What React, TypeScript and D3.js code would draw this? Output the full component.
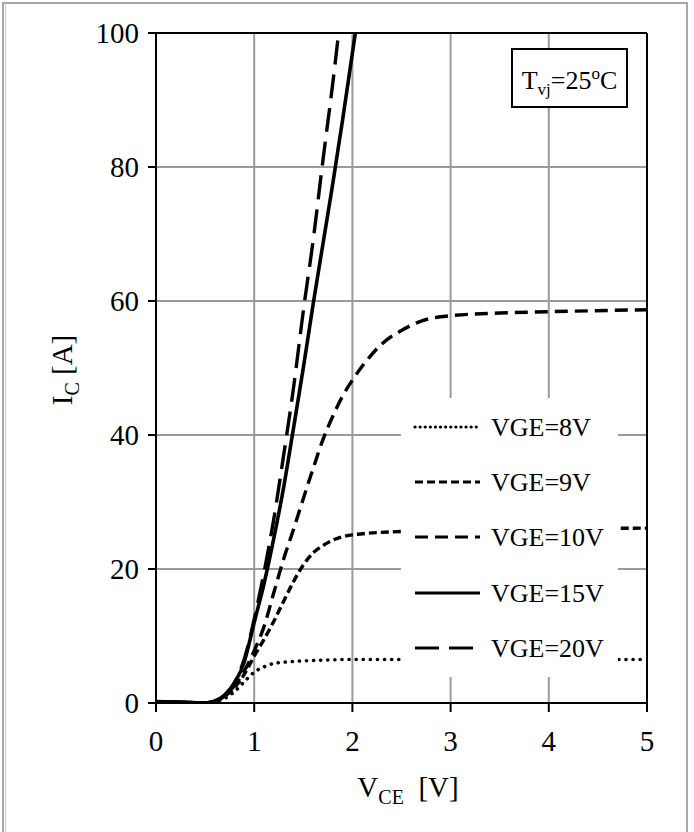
import React from "react";
import * as d3 from "d3";

type Pt = [number, number];

const xTicks = [0, 1, 2, 3, 4, 5];
const yTicks = [0, 20, 40, 60, 80, 100];

const vge8: Pt[] = [[0,0.2],[0.3,0.1],[0.5,0],[0.6,0.2],[0.7,0.7],[0.8,1.7],[0.9,3.2],[1.0,4.6],[1.1,5.4],[1.2,5.9],[1.4,6.2],[1.7,6.4],[2.0,6.5],[3,6.5],[4,6.5],[5,6.5]];
const vge9: Pt[] = [[0,0.2],[0.3,0.1],[0.5,0],[0.6,0.3],[0.7,1.0],[0.8,2.3],[0.9,4.3],[1.0,7.0],[1.1,9.5],[1.2,12.2],[1.3,15.2],[1.4,18.1],[1.5,20.6],[1.6,22.4],[1.7,23.5],[1.8,24.3],[2.0,25.1],[2.5,25.6],[3,25.8],[4,26.0],[5,26.1]];
const vge10: Pt[] = [[0,0.2],[0.3,0.1],[0.5,0],[0.6,0.3],[0.7,1.1],[0.8,2.6],[0.9,4.8],[1.0,7.8],[1.1,11.4],[1.2,16.5],[1.3,21.5],[1.4,25.9],[1.5,30.5],[1.6,35],[1.7,39.3],[1.8,42.8],[1.9,45.8],[2.0,48.2],[2.15,51.2],[2.3,53.6],[2.5,55.6],[2.7,57],[3.0,57.8],[3.5,58.2],[4,58.4],[5,58.7]];
const vge15: Pt[] = [[0,0.2],[0.3,0.1],[0.5,0],[0.6,0.3],[0.7,1.2],[0.8,3.0],[0.9,6.2],[0.95,9.0],[1.0,12],[1.1,17.8],[1.2,24.6],[1.3,32.2],[1.4,41],[1.5,50],[1.6,59.5],[1.7,68.5],[1.8,77.5],[1.9,87],[2.0,97],[2.06,103]];
const vge20: Pt[] = [[0,0.2],[0.3,0.1],[0.5,0],[0.6,0.3],[0.7,1.2],[0.8,3.1],[0.9,6.6],[1.0,12.5],[1.1,19.5],[1.2,27.5],[1.3,37],[1.4,47],[1.5,58.5],[1.6,69],[1.7,81],[1.8,92.5],[1.86,100],[1.9,105]];

const seriesNames = ["VGE=8V", "VGE=9V", "VGE=10V", "VGE=15V", "VGE=20V"];
const seriesData = [vge8, vge9, vge10, vge15, vge20];
const seriesDash = ["0.1 7", "8 4", "13 7", "", "24 10"];
const seriesWidth = [3.6, 3.4, 3.4, 3.6, 3.4];

const FONT = "'Liberation Serif', 'Times New Roman', serif";

export default function App() {
  const left = 156, right = 647, top = 33, bottom = 703;
  const x = d3.scaleLinear().domain([0, 5]).range([left, right]);
  const y = d3.scaleLinear().domain([0, 100]).range([bottom, top]);
  const line = d3.line<Pt>().x(d => x(d[0])).y(d => y(d[1])).curve(d3.curveMonotoneX);

  const legendRows = [427, 482, 537, 593, 648];

  return (
    <div style={{ position: "absolute", left: 0, top: 0 }}>
      <svg width={694} height={832} style={{ display: "block", background: "#fff" }}>
        <defs>
          <clipPath id="plot">
            <rect x={left} y={top} width={right - left} height={bottom - top} />
          </clipPath>
        </defs>
        <rect x={3} y={3} width={684} height={850} fill="none" stroke="#8a8a8a" strokeWidth={1.5} />
        <line x1={5.5} x2={5.5} y1={3} y2={832} stroke="#c8c8c8" strokeWidth={1} />
        {xTicks.filter(t => t > 0 && t < 5).map(t => (
          <line key={"gx" + t} x1={x(t)} x2={x(t)} y1={top} y2={bottom} stroke="#9a9a9a" strokeWidth={2} />
        ))}
        {yTicks.filter(t => t > 0 && t < 100).map(t => (
          <line key={"gy" + t} x1={left} x2={right} y1={y(t)} y2={y(t)} stroke="#9a9a9a" strokeWidth={2} />
        ))}
        <g clipPath="url(#plot)">
          {seriesData.map((d, i) => (
            <path key={i} d={line(d) || ""} fill="none" stroke="#000" strokeWidth={seriesWidth[i]}
              strokeDasharray={seriesDash[i] || undefined}
              strokeLinecap={i === 0 ? "round" : "butt"} />
          ))}
        </g>
        <line x1={left} x2={right} y1={top} y2={top} stroke="#000" strokeWidth={2} />
        <line x1={right} x2={right} y1={top} y2={bottom} stroke="#000" strokeWidth={2} />
        <line x1={left} x2={left} y1={top} y2={bottom} stroke="#000" strokeWidth={2} />
        <line x1={left} x2={right} y1={bottom} y2={bottom} stroke="#000" strokeWidth={2} />
        {yTicks.map(t => (
          <g key={"ty" + t}>
            <line x1={left - 8} x2={left} y1={y(t)} y2={y(t)} stroke="#000" strokeWidth={2} />
            <text x={139} y={y(t)} dy="0.35em" textAnchor="end" fontFamily={FONT} fontSize={29}>{t}</text>
          </g>
        ))}
        {xTicks.map(t => (
          <g key={"tx" + t}>
            <line x1={x(t)} x2={x(t)} y1={bottom} y2={bottom + 9} stroke="#000" strokeWidth={2} />
            <text x={x(t)} y={751} textAnchor="middle" fontFamily={FONT} fontSize={29}>{t}</text>
          </g>
        ))}
        <text x={408} y={797} textAnchor="middle" fontFamily={FONT} fontSize={29}>
          <tspan>V</tspan><tspan fontSize={20} dy={7}>CE</tspan><tspan dy={-7} xmlSpace="preserve">{"  [V]"}</tspan>
        </text>
        <text transform="translate(72,370) rotate(-90)" textAnchor="middle" fontFamily={FONT} fontSize={29}>
          <tspan>I</tspan><tspan fontSize={20} dy={7}>C</tspan><tspan dy={-7}>{" [A]"}</tspan>
        </text>
        <rect x={512} y={49} width={115} height={58} fill="#fff" stroke="#000" strokeWidth={2} />
        <text x={569.5} y={89} textAnchor="middle" fontFamily={FONT} fontSize={26}>
          <tspan>T</tspan><tspan fontSize={17} dy={6}>vj</tspan><tspan dy={-6}>=25</tspan><tspan fontSize={17} dy={-10}>o</tspan><tspan dy={10}>C</tspan>
        </text>
        <rect x={401} y={398} width={217} height={279} fill="#fff" />
        {seriesNames.map((n, i) => (
          <g key={"lg" + i}>
            <line x1={415} x2={480} y1={legendRows[i]} y2={legendRows[i]} stroke="#000" strokeWidth={seriesWidth[i] - 0.4}
              strokeDasharray={i === 0 ? "0.1 5" : (seriesDash[i] || undefined)} strokeLinecap={i === 0 ? "round" : "butt"} />
            <text x={491} y={legendRows[i]} dy="0.36em" fontFamily={FONT} fontSize={26}>{n}</text>
          </g>
        ))}
      </svg>
    </div>
  );
}
